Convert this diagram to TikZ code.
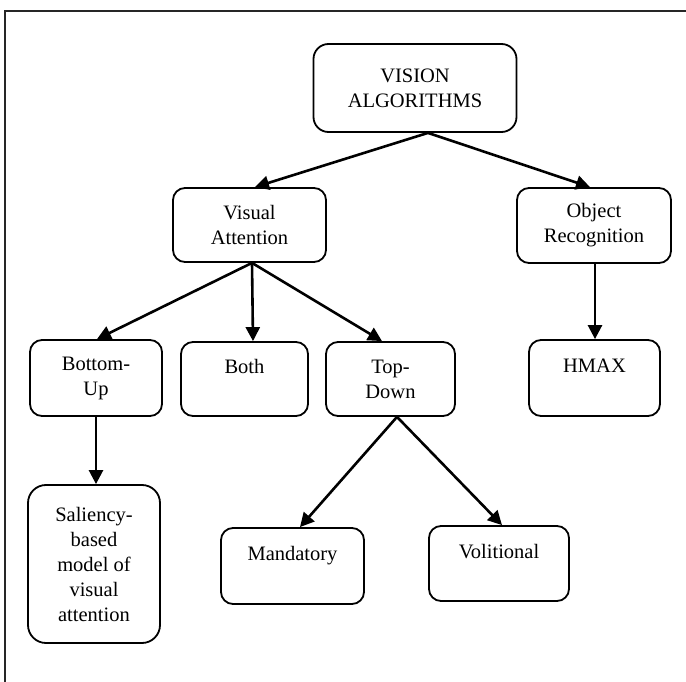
\documentclass[tikz,border=0pt]{standalone}
\usepackage{fontspec}
\setmainfont{Liberation Serif}
\usetikzlibrary{arrows.meta}
\tikzset{
  box/.style={draw, line width=1.8pt, rounded corners=12pt, inner sep=0pt, align=center,
    font=\fontsize{20.5}{25}\selectfont},
  link/.style={line width=2.6pt, -{Triangle[length=14pt,width=14pt]}},
  frame/.style={line width=1.2pt, black!85}
}
\begin{document}
\begin{tikzpicture}[x=1pt,y=-1pt]
\useasboundingbox (0,0) rectangle (686,682);
\coordinate (ftl) at (5,11);
\coordinate (ftr) at (686,11);
\coordinate (fbl) at (5,682);
\draw[frame] (ftr) -- (ftl) -- (fbl);

\node[box, minimum width=203pt, minimum height=88pt, rounded corners=15pt] (vision) at (415,88) {VISION\\ALGORITHMS};
\node[box, minimum width=153pt, minimum height=74pt] (va) at (249.5,225) {Visual\\Attention};
\node[box, minimum width=154pt, minimum height=75pt] (obj) at (594,225.5) {Object\\Recognition};
\node[box, minimum width=132pt, minimum height=76pt] (bu) at (96,378) {Bottom-\\Up};
\node[box, minimum width=127pt, minimum height=74pt] (both) at (244.5,379) {Both\\\mbox{}};
\node[box, minimum width=129pt, minimum height=74pt] (td) at (390.5,379) {Top-\\Down};
\node[box, minimum width=131pt, minimum height=76pt] (hmax) at (594.5,378) {HMAX\\\mbox{}};
\node[box, minimum width=132pt, minimum height=158pt, rounded corners=18pt] (sal) at (94,564) {Saliency-\\based\\model of\\visual\\attention};
\node[box, minimum width=143pt, minimum height=76pt] (mand) at (292.5,566) {Mandatory\\\mbox{}};
\node[box, minimum width=140pt, minimum height=75pt] (vol) at (499,563.5) {Volitional\\\mbox{}};

\draw[link] ([xshift=13pt]vision.south) -- ([xshift=5.5pt]va.north);
\draw[link] ([xshift=13pt]vision.south) -- ([xshift=-4pt]obj.north);
\draw[link] ([xshift=2.5pt]va.south) -- ([xshift=1pt]bu.north);
\draw[link] ([xshift=2.5pt]va.south) -- ([xshift=8.5pt]both.north);
\draw[link] ([xshift=2.5pt]va.south) -- ([xshift=-8.5pt]td.north);
\draw[link] ([xshift=1pt]obj.south) -- ([xshift=0.5pt]hmax.north);
\draw[link] (bu.south) -- ([xshift=2pt]sal.north);
\draw[link] ([xshift=6.5pt]td.south) -- ([xshift=7.5pt]mand.north);
\draw[link] ([xshift=6.5pt]td.south) -- ([xshift=3pt]vol.north);
\end{tikzpicture}
\end{document}
